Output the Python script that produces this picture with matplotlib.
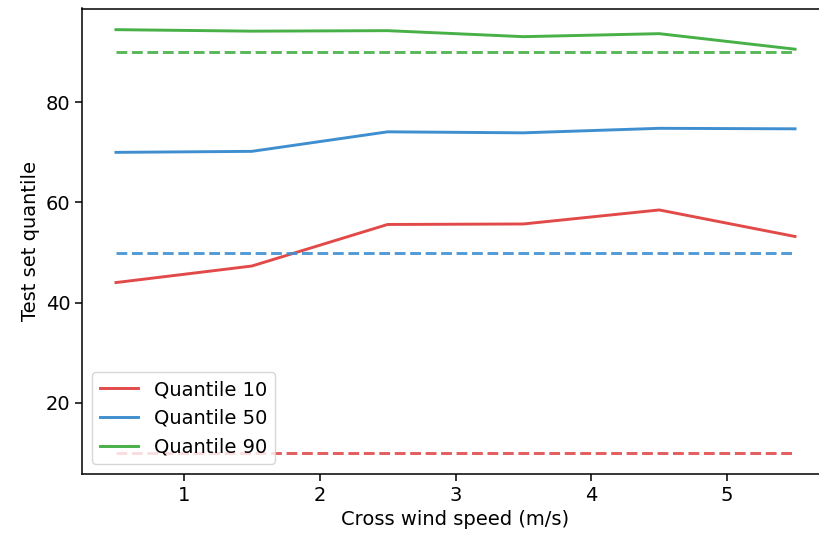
import matplotlib.pyplot as plt

# wind speed bins (m/s)
wind_speed = [0.5, 1.5, 2.5, 3.5, 4.5, 5.5]

# observed test-set quantiles per bin
q10_values = [44.0, 47.3, 55.6, 55.7, 58.5, 53.2]
q50_values = [70.0, 70.2, 74.1, 73.9, 74.8, 74.7]
q90_values = [94.5, 94.2, 94.3, 93.1, 93.7, 90.6]

quantiles = [10, 50, 90]
series = [q10_values, q50_values, q90_values]
colors = ['#e24a4a', '#3f8fd0', '#47b047']

W, H = 819, 537
fig = plt.figure(figsize=(W / 100, H / 100), dpi=100)
# right edge of the axes falls just outside the image (cropped in reference)
ax = fig.add_axes([82 / W, (H - 474) / H, (829 - 82) / W, (474 - 8.5) / H])

for q, vals, c in zip(quantiles, series, colors):
    ax.plot(wind_speed, vals, color=c, linewidth=2.1, label=f'Quantile {q}')
    ax.plot(wind_speed, [q] * len(wind_speed), color=c, linewidth=2.1,
            linestyle='--', alpha=0.9)

fs = 14
ax.set_xlabel('Cross wind speed (m/s)', fontsize=fs)
ax.set_ylabel('Test set quantile', fontsize=fs)
ax.tick_params(labelsize=fs, length=5, width=1.1)
for s in ax.spines.values():
    s.set_linewidth(1.1)
ax.set_yticks([20, 40, 60, 80])
ax.legend(loc='lower left', fontsize=fs)

plt.savefig('out.png', dpi=100)
